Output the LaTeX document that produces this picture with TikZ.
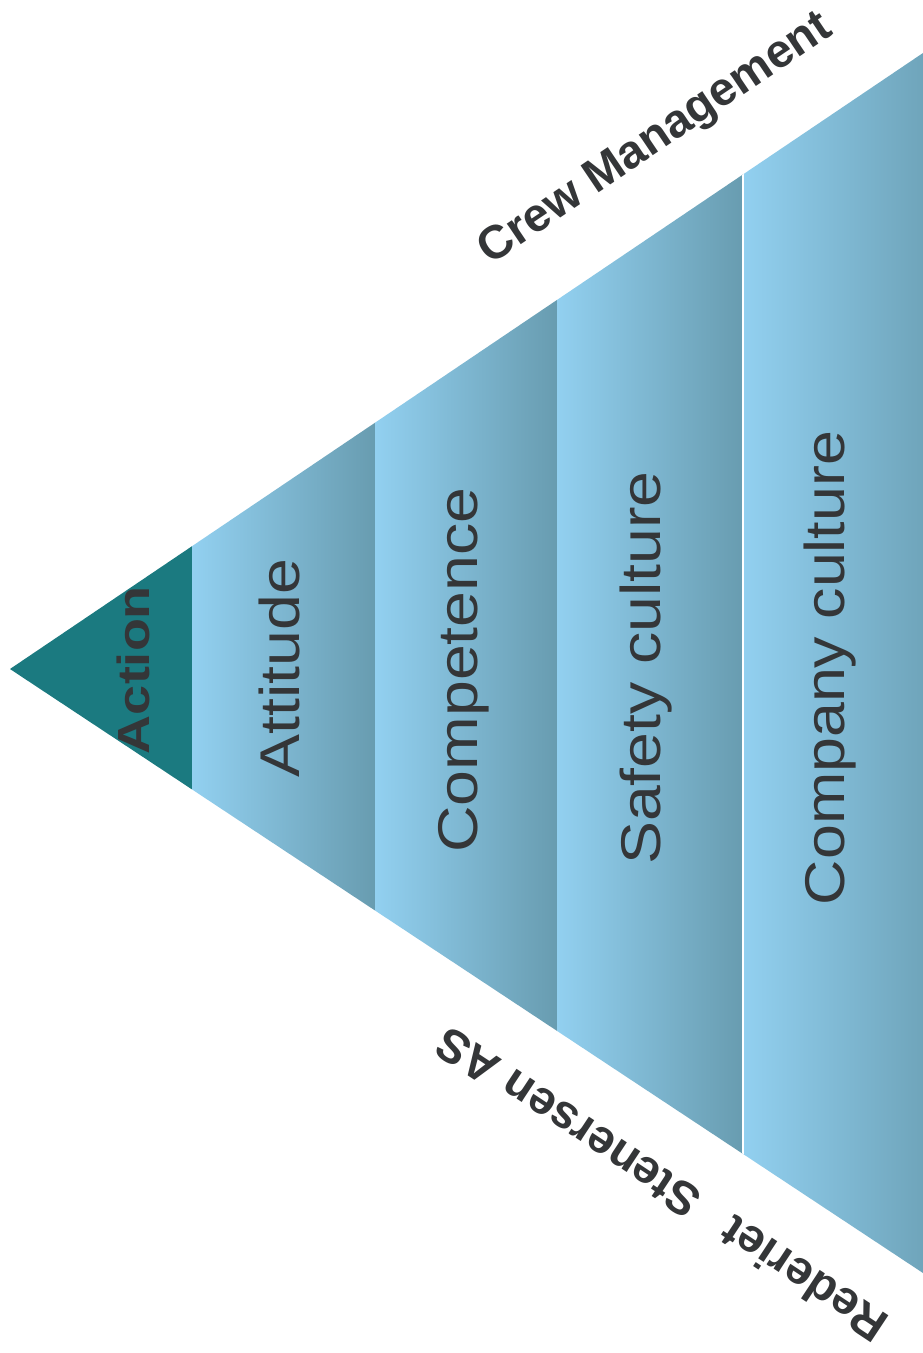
\documentclass[tikz,border=0pt]{standalone}
\usepackage{fontspec}
\setmainfont{Liberation Sans}
\definecolor{actionfill}{RGB}{27,122,128}
\definecolor{lightb}{RGB}{146,208,240}
\definecolor{midb}{RGB}{132,192,222}
\definecolor{darkb}{RGB}{104,156,176}
\definecolor{txt}{RGB}{52,54,56}
\tikzset{
  seglabel/.style={text=txt, inner sep=0pt, font=\fontsize{56}{60}\selectfont},
  actlabel/.style={text=txt, inner sep=0pt, font=\fontsize{45}{50}\selectfont\bfseries},
  sidelabel/.style={text=txt, inner sep=0pt, font=\fontsize{47}{52}\selectfont\bfseries},
  segshade/.style={left color=lightb, middle color=midb, right color=darkb}
}
\begin{document}
\begin{tikzpicture}[x=1pt,y=-1pt]
\useasboundingbox (0,0) rectangle (923,1353);
\fill[white] (0,0) rectangle (923,1353);
\coordinate (apex) at (10,669);
\coordinate (tr) at (923,53);
\coordinate (br) at (923,1273);
\begin{scope}
  \clip (apex) -- (tr) -- (br) -- cycle;
  \fill[actionfill] (0,0) rectangle (192,1353);
  \shade[segshade] (192,0) rectangle (375,1353);
  \shade[segshade] (375,0) rectangle (557,1353);
  \shade[segshade] (557,0) rectangle (743,1353);
  \shade[segshade] (743,0) rectangle (960,1353);
  \draw[white, line width=2pt] (743,0) -- (743,1353);
\end{scope}
\node[actlabel, rotate=90] (action) at (133,670) {\scalebox{1.2}[1]{Action}};
\node[seglabel, rotate=90] (attitude) at (279,668) {\scalebox{1.15}[1]{Attitude}};
\node[seglabel, rotate=90] (competence) at (464,670) {\scalebox{1.15}[1]{Competence}};
\node[seglabel, rotate=90] (safety) at (646,668) {\scalebox{1.15}[1]{Safety culture}};
\node[seglabel, rotate=90] (company) at (830,668) {\scalebox{1.12}[1]{Company culture}};
\node[sidelabel, rotate=34] (crew) at (656,140) {Crew Management};
\node[sidelabel, rotate=146.5] (rederiet) at (661,1185) {Rederiet\hspace{0.5em} Stenersen AS};
\end{tikzpicture}
\end{document}
